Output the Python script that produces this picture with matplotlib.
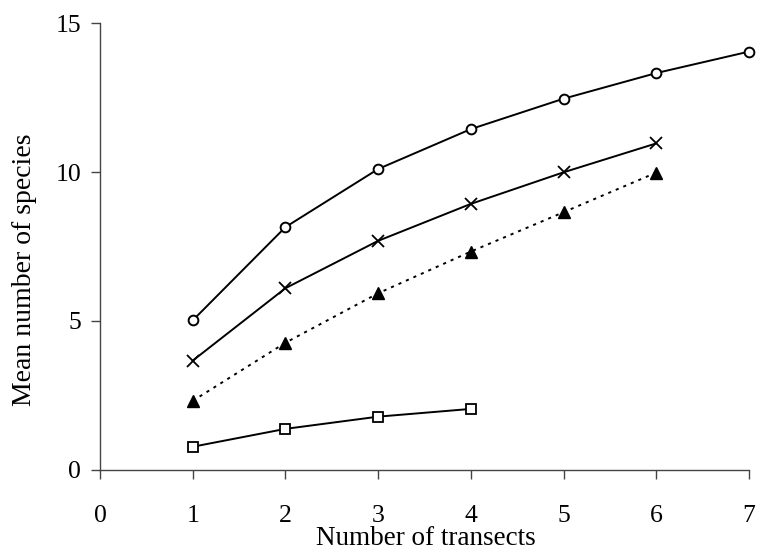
import numpy as np
import matplotlib
matplotlib.use("Agg")
import matplotlib.pyplot as plt

plt.rcParams['font.family'] = ['Liberation Serif', 'DejaVu Serif']

# Данные (оценены по картинке)
x_circles = [1, 2, 3, 4, 5, 6, 7]
y_circles = [5.02, 8.15, 10.1, 11.44, 12.46, 13.32, 14.04]

x_crosses = [1, 2, 3, 4, 5, 6]
y_crosses = [3.67, 6.1, 7.69, 8.93, 9.99, 10.96]

x_triangles = [1, 2, 3, 4, 5, 6]
y_triangles = [2.32, 4.27, 5.93, 7.33, 8.65, 9.98]

x_squares = [1, 2, 3, 4]
y_squares = [0.78, 1.38, 1.79, 2.05]

x_ticks = [0, 1, 2, 3, 4, 5, 6, 7]
y_ticks = [0, 5, 10, 15]

fig = plt.figure(figsize=(7.57, 5.53), dpi=100)
ax = fig.add_axes([0.1321, 0.1501, 0.8573, 0.8083])

lw = 1.4
ax.plot(x_circles, y_circles, color="black", lw=lw, marker="o", ms=7,
        mfc="white", mec="black", mew=1.4, clip_on=False, zorder=3)
ax.plot(x_crosses, y_crosses, color="black", lw=lw, marker="x", ms=9,
        mec="black", mew=1.3, clip_on=False, zorder=3)
ax.plot(x_triangles, y_triangles, color="black", lw=lw, linestyle=(0, (1.6, 2.6)),
        marker="^", ms=8.5, mfc="black", mec="black", clip_on=False, zorder=3)
ax.plot(x_squares, y_squares, color="black", lw=lw, marker="s", ms=6.5,
        mfc="white", mec="black", mew=1.3, clip_on=False, zorder=3)

ax.set_xlim(0, 7)
ax.set_ylim(0, 15)
ax.set_xticks(x_ticks)
ax.set_yticks(y_ticks)

for s in ["top", "right"]:
    ax.spines[s].set_visible(False)
for s in ["left", "bottom"]:
    ax.spines[s].set_color("#444444")
    ax.spines[s].set_linewidth(1.0)

ax.tick_params(axis="both", direction="out", length=6.5, width=1.0,
               color="#444444", labelsize=18.5)
ax.tick_params(axis="x", pad=19)
ax.tick_params(axis="y", pad=7)

ax.set_xlabel("Number of transects", fontsize=19.5)
ax.set_ylabel("Mean number of species", fontsize=20)
ax.xaxis.set_label_coords(0.502, -0.125)
ax.yaxis.set_label_coords(-0.097, 0.447)

fig.savefig("out.png", dpi=100)
